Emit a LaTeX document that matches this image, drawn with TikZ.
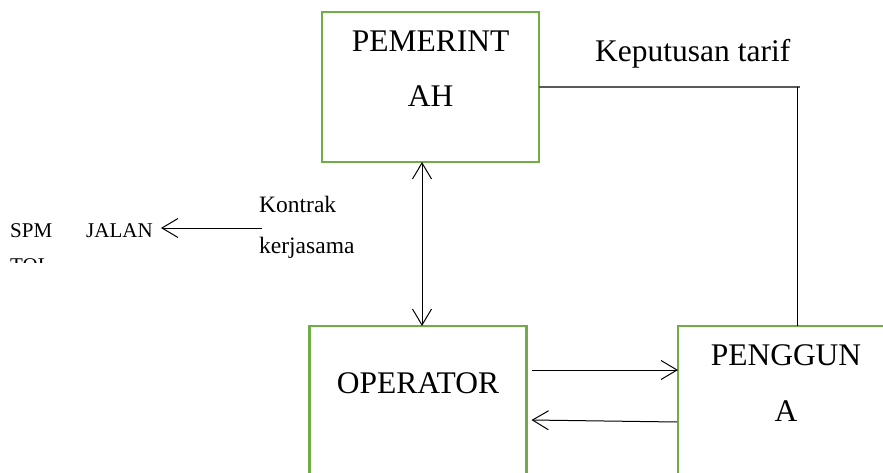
\documentclass[tikz,border=0pt]{standalone}
\usepackage{fontspec}
\setmainfont{Liberation Serif}
\newfontfamily\diagfont{Liberation Serif}
\usetikzlibrary{arrows.meta,positioning}
\definecolor{boxgreen}{HTML}{70AD47}
\definecolor{tarifline}{HTML}{595959}
\tikzset{
  actor/.style={draw=boxgreen,line width=2.75pt,minimum width=217pt,minimum height=150pt,inner sep=0pt,outer sep=0pt},
  bigtxt/.style={anchor=base,inner sep=0pt,font=\diagfont\fontsize{31.5}{38}\selectfont},
  midtxt/.style={anchor=base west,inner sep=0pt,font=\diagfont\fontsize{23.5}{28}\selectfont},
  smalltxt/.style={anchor=base west,inner sep=0pt,font=\diagfont\fontsize{21}{25}\selectfont},
  flow/.style={line width=1pt,-{Straight Barb[length=16pt,width=19pt]}},
  dflow/.style={line width=1pt,{Straight Barb[length=16pt,width=19pt]}-{Straight Barb[length=16pt,width=19pt]}}
}

\begin{document}
\begin{tikzpicture}[x=1pt,y=-1pt]
\useasboundingbox (0,0) rectangle (883,473);
\clip (0,0) rectangle (883,473);
% boxes
\node[actor] (pem) at (430.5,87) {};
\node[actor] (op) at (418,401) {};
\node[actor] (pen) at (786.5,401) {};
% texts
\node[bigtxt] (pemA) at (430.5,52) {PEMERINT};
\node[bigtxt] (pemB) at (430.5,107) {AH};
\node[bigtxt] (optxt) at (418,393) {OPERATOR};
\node[bigtxt] (penA) at (786,365) {PENGGUN};
\node[bigtxt] (penB) at (786,421) {A};
\node[bigtxt,anchor=base west] (tarif) at (595,62) {Keputusan tarif};
\node[midtxt] (kontrak) at (259,212) {Kontrak};
\node[midtxt] (kerja) at (259,253) {kerjasama};
\node[smalltxt] (spm) at (10,237) {SPM};
\node[smalltxt] (jalan) at (86,237) {JALAN};
	\begin{scope}
	\clip (0,0) rectangle (200,262);
	\node[smalltxt] (tol) at (10,272) {TOL};
	\end{scope}
% connectors
\coordinate (kontrakend) at (262,228);
\coordinate (jalantip) at (161,228);
\draw[flow] (kontrakend) -- (jalantip);
\coordinate (pemlink) at ([xshift=-8.5pt]pem.south);
\draw[dflow] (pemlink) -- (pemlink |- op.north);
\draw[flow] ([shift={(5,44)}]op.north east) -- ([shift={(0,44)}]pen.north west);
\draw[flow] ([shift={(-1,96)}]pen.north west) -- ([shift={(5,94)}]op.north east);
\coordinate (tarifend) at (800,87);
\coordinate (tarifcorner) at (797,87);
\draw[tarifline,line width=1.5pt] (pem.east) -- (tarifend);
\draw[line width=1pt] (tarifcorner) -- (tarifcorner |- pen.north);
\end{tikzpicture}
\end{document}
